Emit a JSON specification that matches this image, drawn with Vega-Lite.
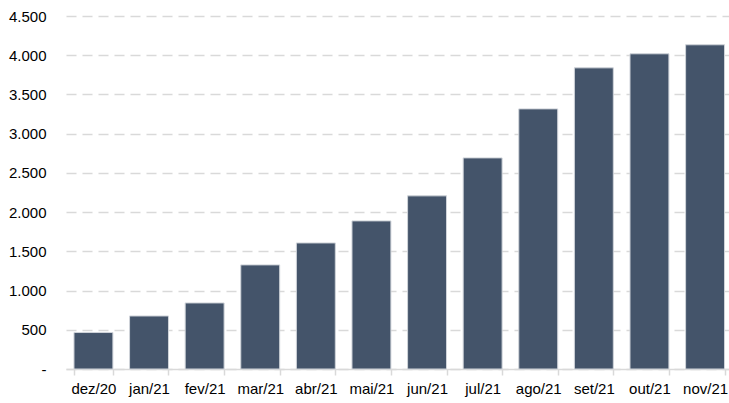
{
  "$schema": "https://vega.github.io/schema/vega-lite/v6.json",
  "width": 663,
  "height": 353,
  "autosize": {"type": "none"},
  "padding": {"left": 66, "top": 16, "right": 0, "bottom": 34},
  "background": "white",
  "config": {"view": {"stroke": null}, "font": "Liberation Sans"},
  "data": {
    "values": [
      {"mes": "dez/20", "valor": 465},
      {"mes": "jan/21", "valor": 676},
      {"mes": "fev/21", "valor": 842},
      {"mes": "mar/21", "valor": 1327},
      {"mes": "abr/21", "valor": 1607},
      {"mes": "mai/21", "valor": 1888},
      {"mes": "jun/21", "valor": 2207},
      {"mes": "jul/21", "valor": 2691},
      {"mes": "ago/21", "valor": 3316},
      {"mes": "set/21", "valor": 3839},
      {"mes": "out/21", "valor": 4018},
      {"mes": "nov/21", "valor": 4133}
    ]
  },
  "mark": {"type": "bar", "color": "#44546A", "stroke": "#d0d4da", "strokeWidth": 1},
  "encoding": {
    "x": {
      "field": "mes",
      "type": "nominal",
      "sort": null,
      "title": null,
      "scale": {"paddingInner": 0.3, "paddingOuter": 0.112, "align": 0.64},
      "axis": {
        "labelAngle": 0,
        "labelFontSize": 15,
        "labelColor": "#000000",
        "labelPadding": 6,
        "domainColor": "#d9d9d9",
        "domainWidth": 1.5,
        "tickColor": "#d9d9d9",
        "tickWidth": 1.5,
        "tickSize": 6,
        "tickBand": "extent",
        "grid": false
      }
    },
    "y": {
      "field": "valor",
      "type": "quantitative",
      "title": null,
      "scale": {"domain": [0, 4500], "nice": false},
      "axis": {
        "values": [0, 500, 1000, 1500, 2000, 2500, 3000, 3500, 4000, 4500],
        "labelExpr": "datum.value == 0 ? '-' : replace(format(datum.value, ',.0f'), ',', '.')",
        "labelFontSize": 15,
        "labelColor": "#000000",
        "labelPadding": 20,
        "domain": false,
        "ticks": false,
        "grid": true,
        "gridColor": "#d9d9d9",
        "gridWidth": 1.5,
        "gridDash": [10, 6]
      }
    }
  }
}
